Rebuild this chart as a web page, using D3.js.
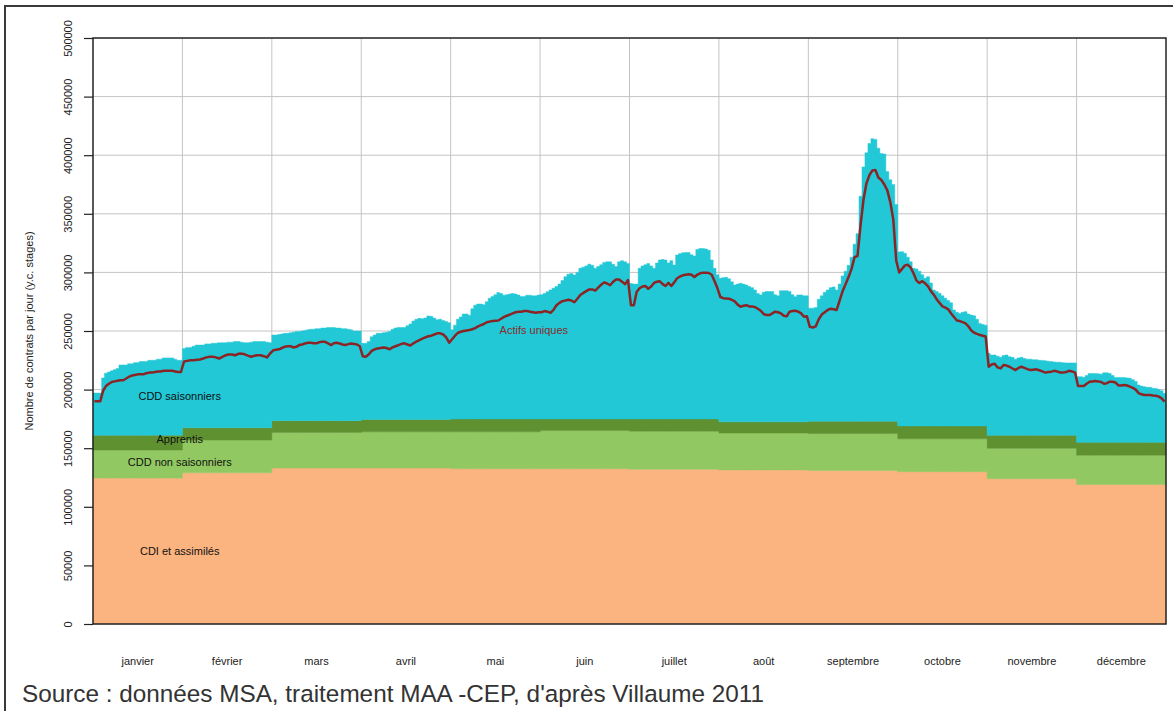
<!DOCTYPE html>
<html>
<head>
<meta charset="utf-8">
<script src="https://cdn.jsdelivr.net/npm/d3@7"></script>
<style>
  body { margin: 0; background: #fff; }
  svg { display: block; font-family: "Liberation Sans", Arial, sans-serif; }
</style>
</head>
<body>
<svg width="1173" height="711"></svg>
<script>
// months on the x axis (equal width each)
const months = ["janvier", "février", "mars", "avril", "mai", "juin",
  "juillet", "août", "septembre", "octobre", "novembre", "décembre"];
const daysInMonth = [31, 28, 31, 30, 31, 30, 31, 31, 30, 31, 30, 31];

// lower layers, monthly level (thousands of contracts)
const cdi = [124.5, 129, 133, 133, 132.5, 132.5, 132, 131.5, 131, 130, 124, 119];
const cddNonSaisonniers = [24, 28, 30.5, 31, 31.5, 32.5, 32.5, 31.5, 31.5, 28, 26, 25];
const apprentis = [12.5, 10.5, 10, 10.5, 11, 10, 10.5, 9.5, 10.5, 11, 11, 11];

// total contracts per day (top of CDD saisonniers), thousands, one list per month
const totalJours = [
  [197,197,197,210,214,215,216,217,218,221,221,221,222,222,223,223,224,224,224,225,225,225,226,226,227,227,227,227,226,225,225],
  [235,236,236,237,238,238,238,239,239,239.5,239.5,240,240,240,240.5,240.5,241,241,240.5,240,240,240.5,241,241,241,241,240.5,240],
  [246.5,246.5,247,247.5,248,248,248.5,249,249.5,249.5,250,250.5,251,251.5,251.5,252,252,252.5,252.5,253,253,253,252.5,252.5,252,252,251.5,251,250,250,250],
  [239.5,239.5,241,245,246.5,248,248,248.5,249,249.5,251.5,252.5,253,253,253,254.5,256,258.5,260,260.8,260.5,261,262.8,262.5,261,259.5,260,259,258,257],
  [251,255,260,262,264.5,264.5,263.5,269,272,273,273,272.4,275,278,279.5,281,282.8,282,280.6,281,281.5,282,281.5,280.7,279.5,279.5,280.5,280.5,280,280,280.7],
  [281,282,283.5,285,286.5,288,290,293,296.3,298.5,299,297.8,300,303.5,304.5,305.5,307,306,303.5,305,306.5,308.5,309,309,307,305,309,310,309,307.6],
  [290.5,290,290,303.5,305.5,306.5,307.5,305.5,303.5,308,310.6,311,310.5,308,310,306.3,314.8,316,316.7,317,317,315,314,319.6,320.4,320.4,320,319,310.6,303.5,298],
  [295,295.5,295.8,294.5,292,289.3,290,290.7,290,289.3,288,287,285,282,280.8,283,283.6,283.6,283.6,281,280,284.4,284.4,284.4,283.6,281,279.3,280.8,280.8,280,280],
  [269.5,269.5,270,277,280,283,285,287,287.6,285,290,297,301,306,313,324,333,365,390,402,410,414,413.5,406,401.5,401,386,379,375,358],
  [317.5,317.7,316.3,313,309,303.5,303,301,298,295,296.3,291,285,283.6,282.2,280,278,276,274,268,266,265,266,266.5,264.5,263.6,263,260,256.5,255.5,255],
  [231,229.5,229.5,228.5,227.5,229,229.5,228,227.5,226,227,227.5,226.5,226,226,225.5,225.5,225,224.9,224.6,224.2,224,223.5,223.4,223.4,223,222.8,222.8,222.8,222.8],
  [211,211,210.5,212,213.8,213.8,213.8,213.5,213.2,214.3,214.3,213.8,212,210.4,210.4,210.4,210.4,210,209.6,208.5,207,204,203,202.5,202,201.9,201.2,201,200,199,196.8]
];

// actifs uniques per day, thousands
const actifsJours = [
  [190,190,190,199,203,205,206.5,207,207.5,208,208,209.5,211,212,212.5,213,213,213,214,214.5,214.5,215,215.5,215.5,216,216,216,216,215.5,215,215],
  [224,224.5,225,225,225.5,225.7,226.5,227.5,228,228,227.5,226.5,228,229.3,230,230,229.3,230.5,230.7,230.1,229,228,228.8,229.3,229.3,228.5,227.5,231],
  [233.5,234,234.4,235.5,236.6,237,237,236,236.5,238,238.5,239.4,240,240,239.5,239.5,240.5,240.8,240.8,239.5,238,239.5,240,239.4,238.5,238,238.8,239.4,239,238.5,237],
  [228.5,228,230,233,234.4,235,235.5,236,235.5,234.4,236,237,238,239,239.5,238.5,237.6,239.5,241,242.3,243.5,244.5,245.5,246,247,248,248,247,244.5,240],
  [243,246,248.5,249.4,250,250.5,250.8,251.5,252.5,254,255,256,257.5,258,258.5,258.8,259,260.5,262,263,264,265,266,266.5,266.5,267,267,266.5,266,265.5,266],
  [266,267,266.5,265.5,268,272,274,275.5,276,276.6,276,274.5,277.5,280.7,282.5,284,285.5,285.5,284.5,287,289.5,291.5,290.5,289,292,294,294,292,290,293.5],
  [272,272,283.5,286.5,288,288.4,286,288,291,292,292.4,290,288.4,291,288.4,291.5,295,296.5,297.5,298,298.4,298,296,298,299.2,299.8,299.8,299.5,298,292.4,286.4],
  [279,278,277.8,277.6,276.5,275.3,272.5,270.7,271.5,272,271,271,270.4,269,267.3,264.5,263.6,263.6,265,266.5,266,265,263,262.5,266.5,267,267.3,266.5,265,262.2,262.5],
  [253.5,253,254,260,264,266,268,269,268.5,268,276,284,290,296,303,313,314,340,362,376,383,387,387.3,381,378.8,375,370,360,345,310],
  [300,303,306,306.5,304,299,293,291,292.5,290.7,288,284,281,277,274,271,270,268.5,265,262,259,258.5,257.5,256.5,254,250.5,248.5,247.5,246.6,246,245.3],
  [219.5,221.5,222,219,218.1,221,220.5,219.5,218,216.7,218.5,219.5,218.5,217.5,216.7,217,217.3,216.5,215.5,214.5,215,215.3,216,215.5,214.5,214.5,215,216,215.5,214.5],
  [203,203,203,205,206.7,207,207.3,207,206.5,205,205.5,206.7,206.7,206,203.5,203.5,203.9,203.5,202.5,201.5,200,197,196,195.4,195.4,195.4,195,194.8,194,192.5,189.7]
];

const yTicks = [0, 50, 100, 150, 200, 250, 300, 350, 400, 450, 500];

const layerKeys = ["cdi", "cddns", "app", "cdds"];
const layerColors = { cdi: "#fbb47f", cddns: "#92c862", app: "#5f9130", cdds: "#22c8d6" };

const svg = d3.select("svg");
const margin = { left: 93, top: 38, right: 1166, bottom: 624 };

const x = d3.scaleLinear().domain([0, 12]).range([margin.left, margin.right]);
const y = d3.scaleLinear().domain([0, 500]).range([margin.bottom, margin.top]);

// one record per day
var days = [];
months.forEach(function (m, mi) {
  const n = daysInMonth[mi];
  for (let i = 0; i < n; i++) {
    const base = cdi[mi] + cddNonSaisonniers[mi] + apprentis[mi];
    days.push({
      x0: mi + i / n,
      xc: mi + (i + 0.5) / n,
      cdi: cdi[mi],
      cddns: cddNonSaisonniers[mi],
      app: apprentis[mi],
      cdds: totalJours[mi][i] - base,
      actifs: actifsJours[mi][i]
    });
  }
});

// outer frame
svg.append("rect")
  .attr("x", 5).attr("y", 6).attr("width", 1190).attr("height", 730)
  .attr("fill", "none").attr("stroke", "#3a3a3a").attr("stroke-width", 2);

// grid
const grid = svg.append("g").attr("stroke", "#c4c4c4").attr("stroke-width", 1);
grid.selectAll(".h").data(yTicks.slice(1, -1)).enter().append("line")
  .attr("x1", margin.left).attr("x2", margin.right)
  .attr("y1", d => y(d)).attr("y2", d => y(d));
grid.selectAll(".v").data(d3.range(1, 12)).enter().append("line")
  .attr("y1", margin.top).attr("y2", margin.bottom)
  .attr("x1", d => x(d)).attr("x2", d => x(d));

// stacked layers, drawn as steps (one step per day)
const series = d3.stack().keys(layerKeys)(days);
const area = d3.area()
  .x(d => x(d[2]))
  .y0(d => y(d[0]))
  .y1(d => y(d[1]))
  .curve(d3.curveStepAfter);

series.forEach(function (s) {
  const pts = s.map(d => [d[0], d[1], d.data.x0]);
  const last = s[s.length - 1];
  pts.push([last[0], last[1], 12]);
  svg.append("path")
    .attr("d", area(pts))
    .attr("fill", layerColors[s.key])
    .attr("stroke", layerColors[s.key])
    .attr("stroke-width", 0.5);
});

// actifs uniques line
const line = d3.line().x(d => x(d.xc)).y(d => y(d.actifs));
svg.append("path")
  .datum(days)
  .attr("d", line)
  .attr("fill", "none")
  .attr("stroke", "#8b2424")
  .attr("stroke-width", 2.5)
  .attr("stroke-linejoin", "round");

// plot box
svg.append("rect")
  .attr("x", margin.left).attr("y", margin.top)
  .attr("width", margin.right - margin.left).attr("height", margin.bottom - margin.top)
  .attr("fill", "none").attr("stroke", "#222").attr("stroke-width", 1.5);

// y axis
const yAxis = svg.append("g")
  .attr("transform", "translate(" + margin.left + ",0)")
  .call(d3.axisLeft(y).tickValues(yTicks).tickSize(9).tickFormat(d => d * 1000));
yAxis.select(".domain").remove();
yAxis.selectAll(".tick line").attr("stroke", "#222").attr("stroke-width", 1.2);
yAxis.selectAll(".tick text")
  .attr("transform", "rotate(-90)")
  .attr("x", 0).attr("y", -21).attr("dy", 0)
  .attr("text-anchor", "middle")
  .attr("font-size", 11)
  .attr("font-family", "Liberation Sans, Arial, sans-serif")
  .attr("fill", "#222");

svg.append("text")
  .attr("transform", "translate(33," + ((margin.top + margin.bottom) / 2) + ") rotate(-90)")
  .attr("text-anchor", "middle")
  .attr("font-size", 11)
  .attr("fill", "#222")
  .text("Nombre de contrats par jour (y.c. stages)");

// month labels
svg.append("g").selectAll("text").data(months).enter().append("text")
  .attr("x", (d, i) => x(i + 0.5))
  .attr("y", 665)
  .attr("text-anchor", "middle")
  .attr("font-size", 11)
  .attr("fill", "#222")
  .text(d => d);

// layer labels
const labels = [
  { t: "CDD saisonniers", m: 0.97, v: 194, c: "#111" },
  { t: "Apprentis", m: 0.97, v: 158, c: "#111" },
  { t: "CDD non saisonniers", m: 0.97, v: 138.5, c: "#111" },
  { t: "CDI et assimilés", m: 0.97, v: 62.5, c: "#111" },
  { t: "Actifs uniques", m: 4.93, v: 250.8, c: "#8b2a2a" }
];
svg.append("g").selectAll("text").data(labels).enter().append("text")
  .attr("x", d => x(d.m))
  .attr("y", d => y(d.v))
  .attr("dy", "0.35em")
  .attr("text-anchor", "middle")
  .attr("font-size", 11)
  .attr("fill", d => d.c)
  .text(d => d.t);

// source
svg.append("text")
  .attr("x", 22).attr("y", 702)
  .attr("font-size", 24.3)
  .attr("fill", "#333")
  .text("Source : données MSA, traitement MAA -CEP, d'après Villaume 2011");
</script>
</body>
</html>
